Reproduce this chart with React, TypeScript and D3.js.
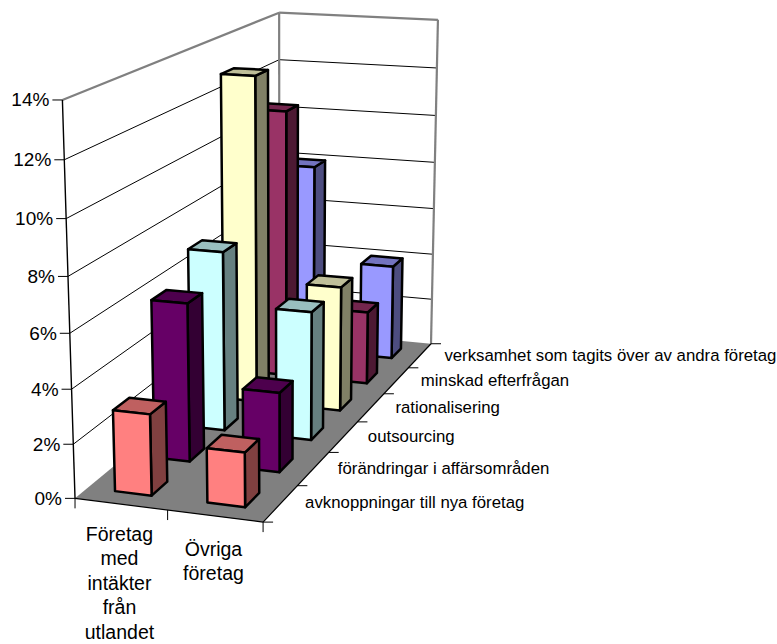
import React from "react";
import * as d3 from "d3";

const categories = ["Företag med intäkter från utlandet", "Övriga företag"];
const categoryLines = [["Företag", "med", "intäkter", "från", "utlandet"], ["Övriga", "företag"]];
const categoryFirstBaselines = [541, 555.5];
const seriesNames = [
  "avknoppningar till nya företag",
  "förändringar i affärsområden",
  "outsourcing",
  "rationalisering",
  "minskad efterfrågan",
  "verksamhet som tagits över av andra företag",
];
const foretagMedIntakter = [3, 6, 7, 13, 11, 8];
const ovrigaForetag = [2, 3, 5, 5, 3, 4];
const yTicks = [0, 2, 4, 6, 8, 10, 12, 14];
const frontColors = ["#FF8080", "#660066", "#CCFFFF", "#FFFFCC", "#993366", "#9999FF"];
const topColors = ["#BF6060", "#4D004D", "#99BFBF", "#BFBF99", "#73264D", "#7373BF"];
const sideColors = ["#804040", "#330033", "#668080", "#808066", "#4D1933", "#4D4D80"];

type V3 = [number, number, number];
type V2 = [number, number];

// Box corners of the plot volume (x across, y up, z into depth) and where they land on screen.
const anchors: [V3, V2][] = [
  [[0, 0, 0], [75, 497]],
  [[1, 0, 0], [263, 523.5]],
  [[1, 0, 1], [431, 342]],
  [[0, 0, 1], [279.5, 331]],
  [[0, 1, 0], [62.5, 100]],
  [[0, 1, 1], [279, 12]],
  [[1, 1, 1], [438, 20.5]],
];

function solve(A: number[][], b: number[]): number[] {
  const n = b.length;
  const m = A.map((r, i) => [...r, b[i]]);
  for (let c = 0; c < n; c++) {
    let p = c;
    for (let r = c + 1; r < n; r++) if (Math.abs(m[r][c]) > Math.abs(m[p][c])) p = r;
    [m[c], m[p]] = [m[p], m[c]];
    for (let r = 0; r < n; r++) {
      if (r === c) continue;
      const f = m[r][c] / m[c][c];
      for (let k = c; k <= n; k++) m[r][k] -= f * m[c][k];
    }
  }
  return m.map((r, i) => r[n] / r[i]);
}

function fitProjection(pts: [V3, V2][]) {
  const S = 500;
  const rows: number[][] = [];
  const rhs: number[] = [];
  for (const [[x, y, z], [u0, v0]] of pts) {
    const u = u0 / S;
    const v = v0 / S;
    rows.push([x, y, z, 1, 0, 0, 0, 0, -u * x, -u * y, -u * z]);
    rhs.push(u);
    rows.push([0, 0, 0, 0, x, y, z, 1, -v * x, -v * y, -v * z]);
    rhs.push(v);
  }
  const n = 11;
  const ata = d3.range(n).map((i) => d3.range(n).map((j) => d3.sum(rows, (r) => r[i] * r[j])));
  const atb = d3.range(n).map((i) => d3.sum(rows, (r, k) => r[i] * rhs[k]));
  const p = solve(ata, atb);
  return ([x, y, z]: V3): V2 => {
    const w = p[8] * x + p[9] * y + p[10] * z + 1;
    return [
      (S * (p[0] * x + p[1] * y + p[2] * z + p[3])) / w,
      (S * (p[4] * x + p[5] * y + p[6] * z + p[7])) / w,
    ];
  };
}

const project = fitProjection(anchors);
const xBand = d3.scaleBand<number>().domain([0, 1]).range([0, 1]).paddingInner(0.6).paddingOuter(0.3);
const zBand = d3.scaleBand<number>().domain(d3.range(6)).range([0, 1]).paddingInner(0.6).paddingOuter(0.3);
const yScale = d3.scaleLinear().domain([0, 14]).range([0, 1]);
const poly = (pts: V3[]) => d3.line()(pts.map(project)) + "Z";
const seg = (a: V3, b: V3) => d3.line()([project(a), project(b)]) as string;
const FONT = "'Liberation Sans', Arial, sans-serif";
const GREY = "#808080";

const seriesValues = seriesNames.map((_, i) => [foretagMedIntakter[i], ovrigaForetag[i]]);

export default function App() {
  const order = d3.range(5, -1, -1);
  return (
    <svg
      width={777}
      height={644}
      style={{ position: "absolute", left: 0, top: 0, background: "#fff" }}
      fontFamily={FONT}
    >
      {/* walls */}
      <path d={poly([[0, 0, 0], [0, 1, 0], [0, 1, 1], [0, 0, 1]])} fill="#fff" />
      <path d={poly([[0, 0, 1], [0, 1, 1], [1, 1, 1], [1, 0, 1]])} fill="#fff" />
      {/* gridlines */}
      {yTicks.slice(1, -1).map((t) => {
        const y = yScale(t);
        return (
          <g key={t} stroke="#000" strokeWidth={1} fill="none">
            <path d={seg([0, y, 0], [0, y, 1])} />
            <path d={seg([0, y, 1], [1, y, 1])} />
          </g>
        );
      })}
      {/* wall outline */}
      <g stroke={GREY} strokeWidth={2.2} fill="none">
        <path d={seg([0, 1, 0], [0, 1, 1])} />
        <path d={seg([0, 1, 1], [1, 1, 1])} />
        <path d={seg([1, 1, 1], [1, 0, 1])} />
        <path d={seg([0, 1, 1], [0, 0, 1])} />
      </g>
      {/* floor */}
      <path d={poly([[0, 0, 0], [1, 0, 0], [1, 0, 1], [0, 0, 1]])} fill={GREY} />
      {/* value axis */}
      <path d={seg([0, 0, 0], [0, 1, 0])} stroke="#000" strokeWidth={1.4} fill="none" />
      {yTicks.map((t) => {
        const [px, py] = project([0, yScale(t), 0]);
        return (
          <g key={t}>
            <line x1={px - 10} x2={px} y1={py} y2={py} stroke="#000" strokeWidth={1} />
            <text x={px - 13} y={py + 6.5} textAnchor="end" fontSize={19}>
              {t}%
            </text>
          </g>
        );
      })}
      {/* category axis */}
      <path d={seg([0, 0, 0], [1, 0, 0])} stroke="#000" strokeWidth={1.2} fill="none" />
      {[0, 0.5, 1].map((x) => {
        const [px, py] = project([x, 0, 0]);
        return <line key={x} x1={px} x2={px} y1={py} y2={py + 10} stroke="#000" strokeWidth={1} />;
      })}
      {categories.map((c, i) => {
        const [px] = project([(xBand(i) as number) + xBand.bandwidth() / 2, 0, 0]);
        return (
          <text key={c} textAnchor="middle" fontSize={19.5}>
            {categoryLines[i].map((l, k) => (
              <tspan key={l} x={px - 1.5} y={categoryFirstBaselines[i] + k * 24.4}>
                {l}
              </tspan>
            ))}
          </text>
        );
      })}
      {/* depth axis */}
      <path d={seg([1, 0, 0], [1, 0, 1])} stroke="#000" strokeWidth={1.2} fill="none" />
      {d3.range(7).map((i) => {
        const [px, py] = project([1, 0, i / 6]);
        return <line key={i} x1={px} x2={px + 10} y1={py} y2={py} stroke="#000" strokeWidth={1} />;
      })}
      {seriesNames.map((s, i) => {
        const [px, py] = project([1, 0, (i + 0.5) / 6]);
        return (
          <text key={s} x={px + 24.5} y={py + 5} fontSize={16.8}>
            {s}
          </text>
        );
      })}
      {/* bars, far row first */}
      {order.map((si) =>
        [0, 1].map((ci) => {
          const x0 = xBand(ci) as number;
          const x1 = x0 + xBand.bandwidth();
          const z0 = zBand(si) as number;
          const z1 = z0 + zBand.bandwidth();
          const h = yScale(seriesValues[si][ci]);
          return (
            <g key={`${si}-${ci}`} stroke="#000" strokeWidth={2.5} strokeLinejoin="round">
              <path d={poly([[x1, 0, z0], [x1, 0, z1], [x1, h, z1], [x1, h, z0]])} fill={sideColors[si]} />
              <path d={poly([[x0, h, z0], [x1, h, z0], [x1, h, z1], [x0, h, z1]])} fill={topColors[si]} />
              <path d={poly([[x0, 0, z0], [x1, 0, z0], [x1, h, z0], [x0, h, z0]])} fill={frontColors[si]} />
            </g>
          );
        })
      )}
    </svg>
  );
}
